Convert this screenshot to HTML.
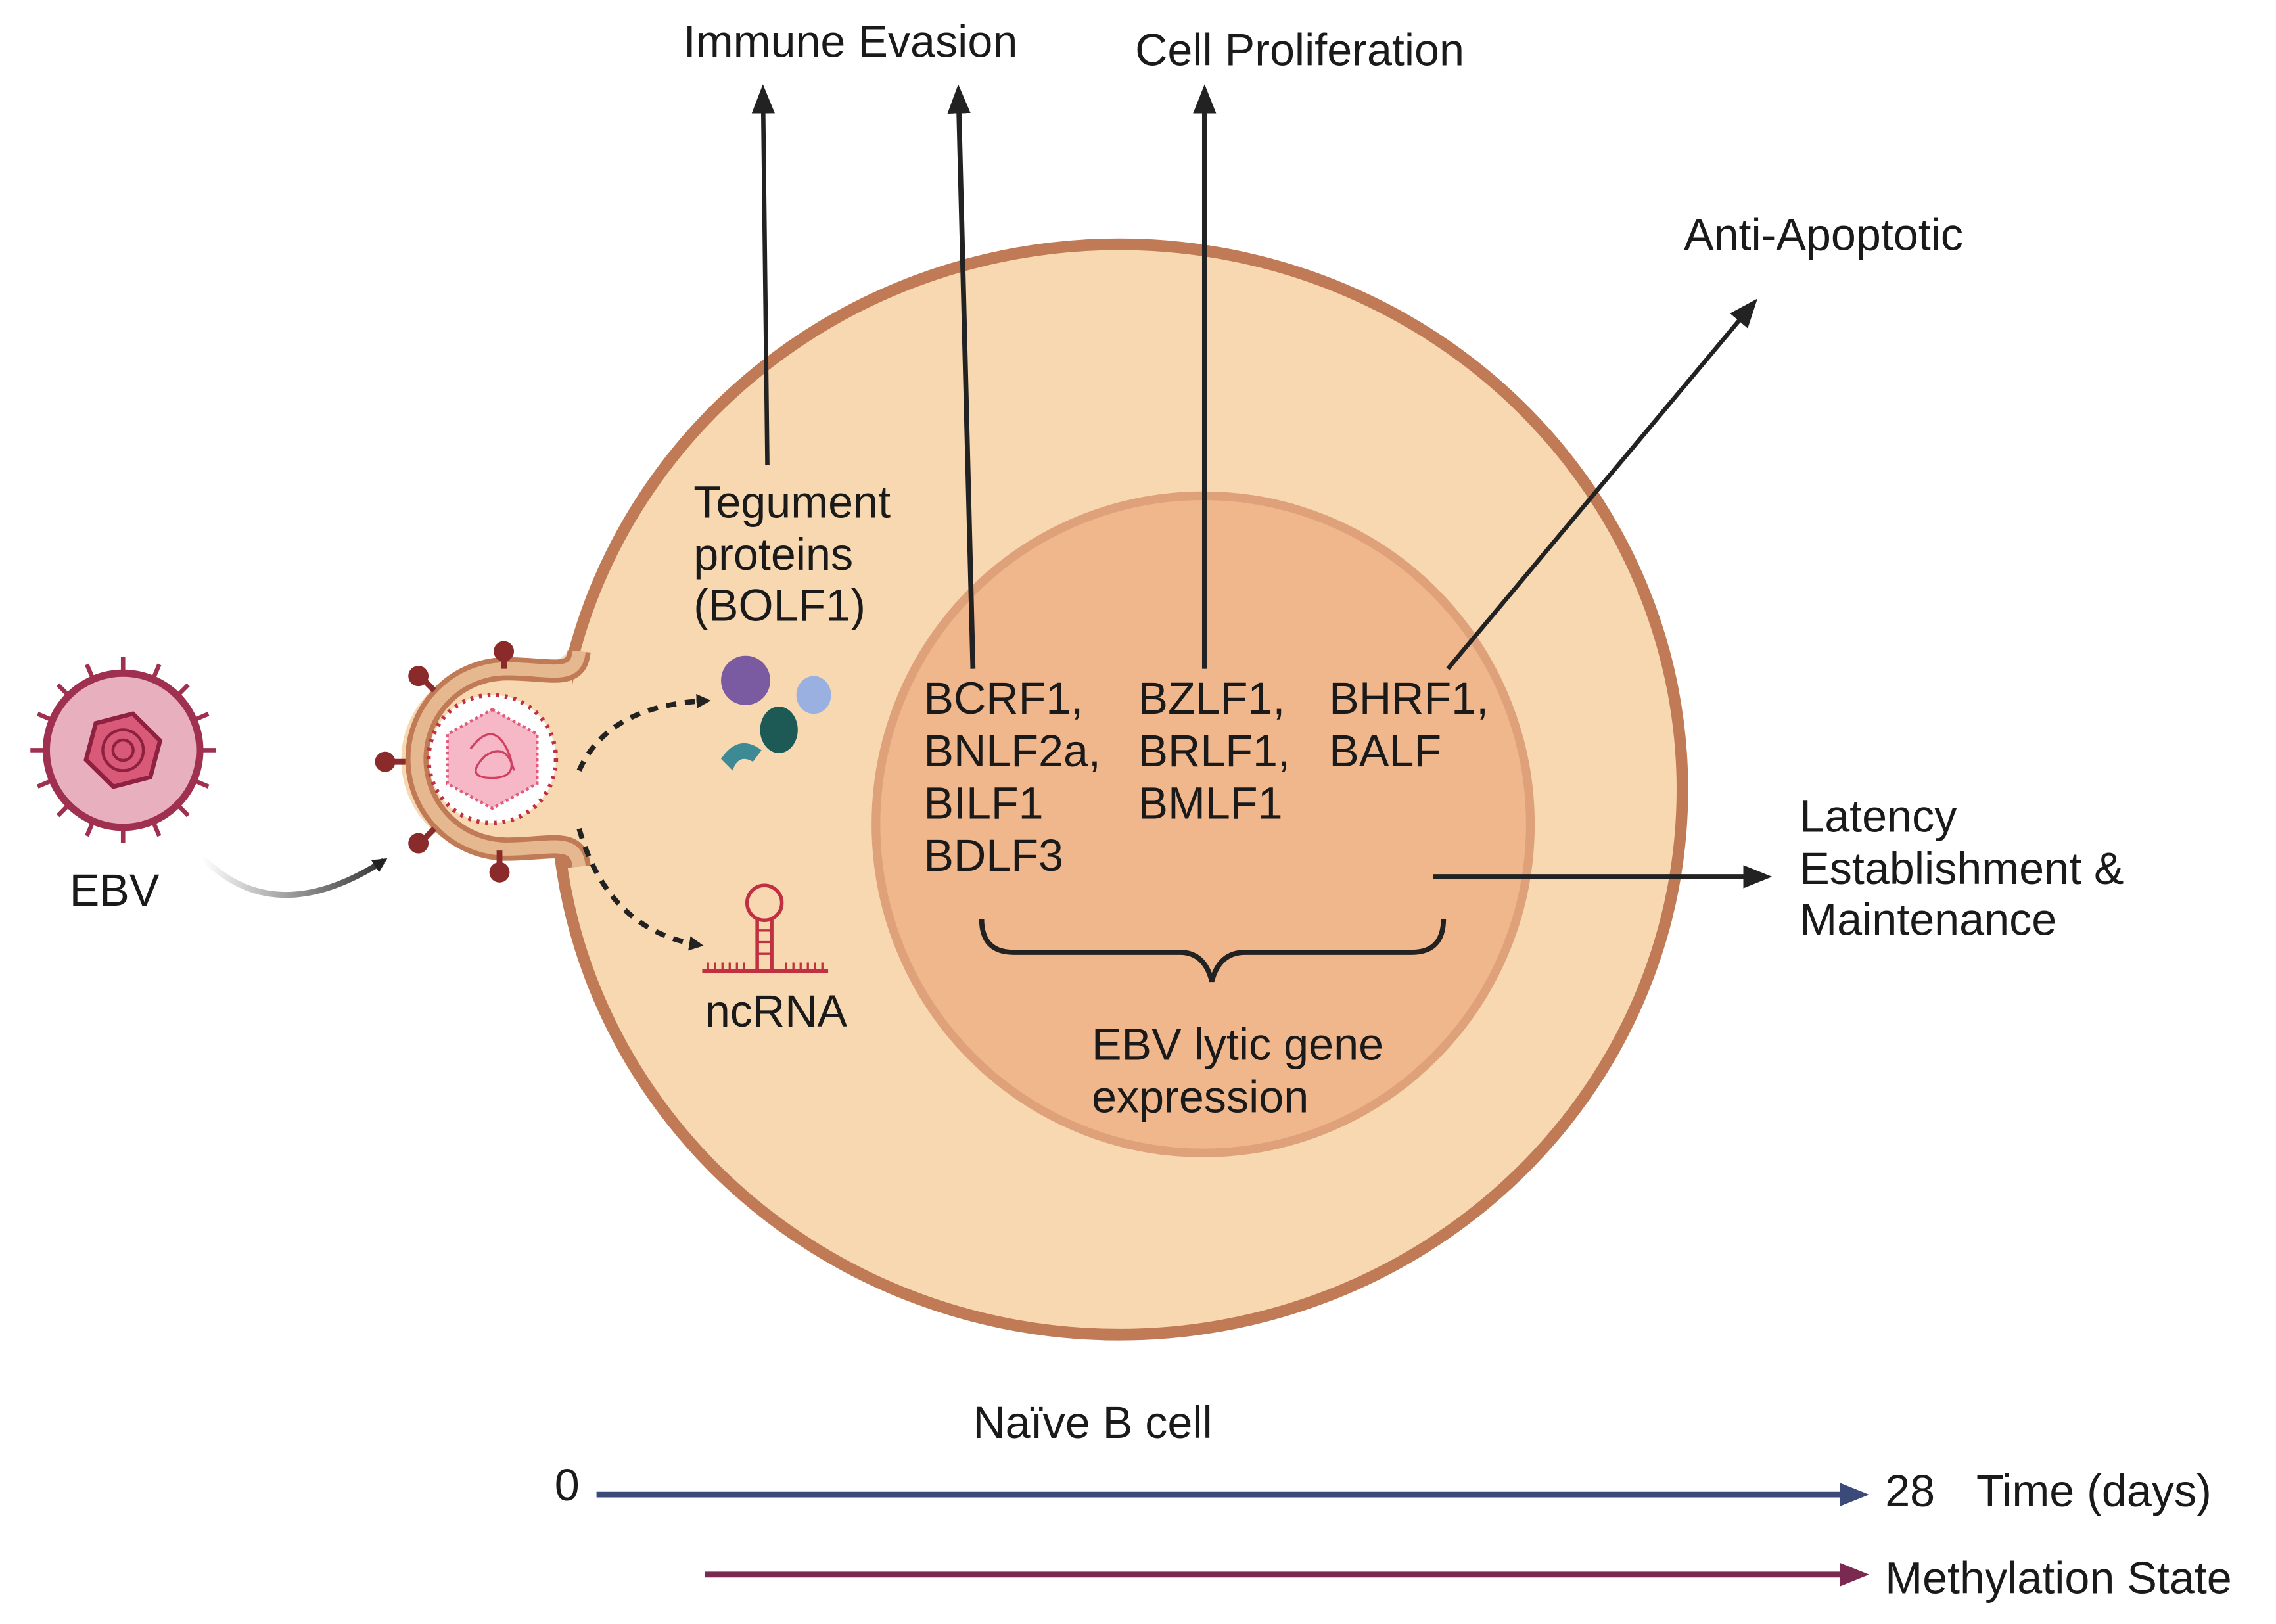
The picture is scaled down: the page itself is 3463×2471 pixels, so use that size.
<!DOCTYPE html>
<html><head><meta charset="utf-8"><style>
html,body{margin:0;padding:0;background:#fff}
svg{display:block}
text{font-family:"Liberation Sans",sans-serif;fill:#1a1a1a}
</style></head><body>
<svg width="3463" height="2471" viewBox="0 0 1572 1117" preserveAspectRatio="none" xmlns="http://www.w3.org/2000/svg">
<defs>
<marker id="ah" markerWidth="10" markerHeight="10" refX="7" refY="5" orient="auto" markerUnits="userSpaceOnUse" viewBox="0 0 10 10"><path d="M0,0 L10,5 L0,10 z" fill="#222"/></marker>
<marker id="ahs" markerWidth="20" markerHeight="20" refX="14" refY="10" orient="auto" markerUnits="userSpaceOnUse" viewBox="0 0 20 20"><path d="M0,2 L20,10 L0,18 z" fill="#222"/></marker>
<marker id="ahb" markerWidth="20" markerHeight="20" refX="14" refY="10" orient="auto" markerUnits="userSpaceOnUse" viewBox="0 0 20 20"><path d="M0,2 L20,10 L0,18 z" fill="#3b4a78"/></marker>
<marker id="ahm" markerWidth="20" markerHeight="20" refX="14" refY="10" orient="auto" markerUnits="userSpaceOnUse" viewBox="0 0 20 20"><path d="M0,2 L20,10 L0,18 z" fill="#7a2a50"/></marker>
<linearGradient id="cg" x1="0" x2="1"><stop offset="0" stop-color="#fff"/><stop offset="1" stop-color="#333"/></linearGradient>
</defs>

<ellipse cx="773" cy="543" rx="389" ry="375" fill="#f7d8b0" stroke="#c07a55" stroke-width="8"/>
<circle cx="831" cy="567" r="226" fill="#f0b68c" stroke="#dea17a" stroke-width="6"/>

<path d="M395,455 Q400,440 385,455 L360,460 A65,65 0 1 0 360,585 L385,588 Q400,600 395,585" fill="#f7d8b0" stroke="none"/>
<path d="M400,448 C398,468 380,460 350,460 A62,62 0 0 0 350,584 C380,584 398,576 400,596" fill="none" stroke="#c07a55" stroke-width="16"/>
<path d="M400,448 C398,468 380,460 350,460 A62,62 0 0 0 350,584 C380,584 398,576 400,596" fill="none" stroke="#e6b890" stroke-width="9"/>
<circle cx="340" cy="522" r="44" fill="#fff" stroke="#c03040" stroke-width="3" stroke-dasharray="2 4"/>
<polygon points="340,488 371,505 371,539 340,556 309,539 309,505" fill="#f6b8c6" stroke="#e05a7a" stroke-width="2" stroke-dasharray="2 2"/>
<path d="M325,515 q15,-20 25,0 q10,20 -10,20 q-20,0 -5,-15 q15,-10 20,10" fill="none" stroke="#d04060" stroke-width="1.5"/>
<g stroke="#8b2a2a" stroke-width="4" fill="#8b2a2a">
<line x1="290" y1="465" x2="300" y2="475"/><circle cx="289" cy="465" r="5"/>
<line x1="348" y1="448" x2="348" y2="460"/><circle cx="348" cy="448" r="5"/>
<line x1="268" y1="524" x2="280" y2="524"/><circle cx="266" cy="524" r="5"/>
<line x1="290" y1="580" x2="300" y2="570"/><circle cx="289" cy="580" r="5"/>
<line x1="345" y1="598" x2="345" y2="585"/><circle cx="345" cy="600" r="5"/>
</g>

<g>
<g stroke="#a03050" stroke-width="3">
<line x1="85" y1="452" x2="85" y2="580"/><line x1="21" y1="516" x2="149" y2="516"/>
<line x1="40" y1="471" x2="130" y2="561"/><line x1="130" y1="471" x2="40" y2="561"/>
<line x1="60" y1="457" x2="110" y2="575"/><line x1="110" y1="457" x2="60" y2="575"/>
<line x1="26" y1="491" x2="144" y2="541"/><line x1="144" y1="491" x2="26" y2="541"/>
</g>
<circle cx="85" cy="516" r="53" fill="#e8b0bf" stroke="#a03050" stroke-width="5"/>
<polygon points="85,490 108,503 108,529 85,542 62,529 62,503" fill="#d85a78" stroke="#8e2040" stroke-width="3" transform="rotate(15 85 516)"/>
<circle cx="85" cy="516" r="14" fill="none" stroke="#8e2040" stroke-width="2"/>
<circle cx="85" cy="516" r="7" fill="none" stroke="#8e2040" stroke-width="2"/>
</g>
<path d="M140,590 Q190,640 265,592" fill="none" stroke="url(#cg)" stroke-width="4" marker-end="url(#ah)"/>

<path d="M400,530 Q420,485 488,482" fill="none" stroke="#222" stroke-width="3.5" stroke-dasharray="7 6" marker-end="url(#ah)"/>
<path d="M400,570 Q420,640 483,650" fill="none" stroke="#222" stroke-width="3.5" stroke-dasharray="7 6" marker-end="url(#ah)"/>

<ellipse cx="515" cy="468" rx="17" ry="17" fill="#7a5aa0"/>
<ellipse cx="562" cy="478" rx="12" ry="13" fill="#9ab0e0"/>
<ellipse cx="538" cy="502" rx="13" ry="16" fill="#1e5a55"/>
<path d="M498,522 q12,-18 28,-6 l-6,8 q-10,-6 -14,6 z" fill="#3d8a95"/>

<g stroke="#c03040" stroke-width="2.5" fill="none">
<circle cx="528" cy="621" r="12"/>
<line x1="523" y1="632" x2="523" y2="668"/><line x1="533" y1="632" x2="533" y2="668"/>
<line x1="485" y1="668" x2="572" y2="668"/>
</g>
<g stroke="#c03040" stroke-width="1.5">
<path d="M489,668v-6M494,668v-6M499,668v-6M504,668v-6M509,668v-6M514,668v-6M543,668v-6M548,668v-6M553,668v-6M558,668v-6M563,668v-6M568,668v-6M523,640h10M523,648h10M523,656h10"/>
</g>

<g stroke="#222" stroke-width="3.5" fill="none">
<line x1="530" y1="320" x2="527" y2="64" marker-end="url(#ahs)" stroke-width="3"/>
<line x1="672" y1="460" x2="662" y2="64" marker-end="url(#ahs)"/>
<line x1="832" y1="460" x2="832" y2="64" marker-end="url(#ahs)"/>
<line x1="1000" y1="460" x2="1210" y2="210" marker-end="url(#ahs)" stroke-width="3"/>
<line x1="990" y1="603" x2="1218" y2="603" marker-end="url(#ahs)"/>
<path d="M678,632 Q678,655 700,655 L815,655 Q832,655 837,675 Q842,655 860,655 L975,655 Q997,655 997,632" stroke-width="3.5"/>
</g>

<g font-size="31">
<text x="472" y="39">Immune Evasion</text>
<text x="784" y="45">Cell Proliferation</text>
<text x="1163" y="172">Anti-Apoptotic</text>
<text x="1243" y="572">Latency</text>
<text x="1243" y="608">Establishment &amp;</text>
<text x="1243" y="643">Maintenance</text>
<text x="479" y="356">Tegument</text>
<text x="479" y="392">proteins</text>
<text x="479" y="427">(BOLF1)</text>
<text x="638" y="491">BCRF1,</text>
<text x="638" y="527">BNLF2a,</text>
<text x="638" y="563">BILF1</text>
<text x="638" y="599">BDLF3</text>
<text x="786" y="491">BZLF1,</text>
<text x="786" y="527">BRLF1,</text>
<text x="786" y="563">BMLF1</text>
<text x="918" y="491">BHRF1,</text>
<text x="918" y="527">BALF</text>
<text x="754" y="729">EBV lytic gene</text>
<text x="754" y="765">expression</text>
<text x="487" y="706">ncRNA</text>
<text x="48" y="623">EBV</text>
<text x="672" y="989">Naïve B cell</text>
<text x="383" y="1032">0</text>
<text x="1302" y="1036">28</text>
<text x="1365" y="1036">Time (days)</text>
<text x="1302" y="1096">Methylation State</text>
</g>
<line x1="412" y1="1028" x2="1285" y2="1028" stroke="#3b4a78" stroke-width="4" marker-end="url(#ahb)"/>
<line x1="487" y1="1083" x2="1285" y2="1083" stroke="#7a2a50" stroke-width="4" marker-end="url(#ahm)"/>
</svg>
</body></html>
